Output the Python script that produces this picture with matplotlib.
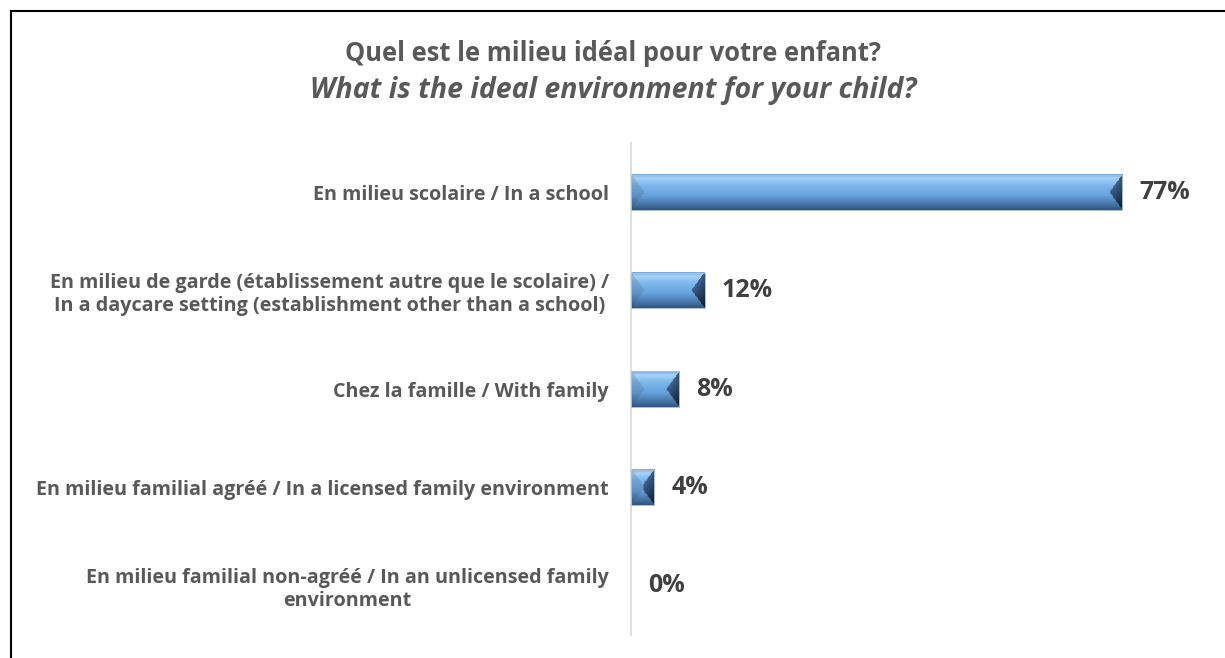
import numpy as np
import matplotlib
matplotlib.use("Agg")
import matplotlib.pyplot as plt
from matplotlib.lines import Line2D
from matplotlib.patches import Rectangle

# Donnees
categories = [
    "En milieu scolaire / In a school",
    "En milieu de garde (établissement autre que le scolaire) /\nIn a daycare setting (establishment other than a school)",
    "Chez la famille / With family",
    "En milieu familial agréé / In a licensed family environment",
    "En milieu familial non-agréé / In an unlicensed family\nenvironment",
]
values = [77.4, 11.6, 7.6, 3.7, 0.0]

title_fr = "Quel est le milieu idéal pour votre enfant?"
title_en = "What is the ideal environment for your child?"

W, H = 1225, 658
plt.rcParams['font.family'] = ['Open Sans', 'DejaVu Sans']

fig = plt.figure(figsize=(W / 100, H / 100), dpi=100)
fig.patch.set_facecolor('white')

# axe: ligne verticale a x=631 px, de y=143 a y=635 px
ax = fig.add_axes([631 / W, (H - 635) / H, (W - 631) / W, (635 - 143) / H])
ax.set_xlim(0, 594 / 6.35)
ax.set_ylim(len(categories) - 0.5, -0.5)

y = np.arange(len(categories))
bars = ax.barh(y, values, height=0.357, facecolor='none', edgecolor='none', zorder=3)


def face_color(t):
    # degradé vertical du biseau (haut clair, bas foncé)
    stops = [0.0, 0.1, 0.28, 0.6, 0.85, 1.0]
    cols = np.array([[125, 172, 220], [168, 212, 246], [128, 186, 238],
                     [102, 162, 220], [70, 116, 166], [50, 86, 130]]) / 255
    return np.stack([np.interp(t, stops, cols[:, i]) for i in range(3)], axis=-1)


def bevel_image(wpx, hpx, b=13):
    rr, cc = np.mgrid[0:hpx, 0:wpx]
    t = rr / max(hpx - 1, 1)
    img = face_color(t)
    dl, dr = cc, wpx - 1 - cc
    lim = b * (1 - np.abs(2 * t - 1))
    lim = np.minimum(lim, wpx / 2)
    left = (dl < lim) & (dl <= dr)
    right = (dr < lim) & (dr < dl)
    img[left] = img[left] * 0.85 + 0.03
    dark = np.stack([np.interp(t, [0, 0.5, 1], [80 / 255, 50 / 255, 20 / 255]),
                     np.interp(t, [0, 0.5, 1], [120 / 255, 82 / 255, 36 / 255]),
                     np.interp(t, [0, 0.5, 1], [168 / 255, 122 / 255, 60 / 255])], axis=-1)
    # plus sombre vers le bord droit
    k = np.clip(dr / b, 0, 1)[..., None]
    shade = dark * (0.75 + 0.45 * k)
    img[right] = np.clip(shade[right], 0, 1)
    return img


fig.canvas.draw()
for bar in bars:
    if bar.get_width() <= 0:
        continue
    x0, y0 = bar.get_x(), bar.get_y()
    x1, y1 = x0 + bar.get_width(), y0 + bar.get_height()
    p0 = ax.transData.transform((x0, y0))
    p1 = ax.transData.transform((x1, y1))
    wpx = max(int(round(abs(p1[0] - p0[0]))), 2)
    hpx = max(int(round(abs(p1[1] - p0[1]))), 2)
    img = bevel_image(wpx, hpx)
    ax.imshow(img, extent=(x0, x1, y1, y0), aspect='auto', interpolation='bilinear', zorder=2)
    ax.add_patch(Rectangle((x0, y0), bar.get_width(), bar.get_height(), facecolor='none',
                           edgecolor='#A9BFD8', lw=0.7, zorder=4))

ax.set_xlim(0, 594 / 6.35)
ax.set_ylim(len(categories) - 0.5, -0.5)

# etiquettes de valeurs
for v, yy in zip(values, y):
    ax.annotate(f"{v:.0f}%", (v, yy), xytext=(12, 0), textcoords='offset points',
                ha='left', va='center', fontsize=18, fontweight='bold', color='#404040')

ax.set_yticks(y)
ax.set_yticklabels(categories, fontsize=14.2, fontweight='bold', color='#595959',
                   linespacing=1.2)
for lab in ax.get_yticklabels():
    lab.set_multialignment('center')
ax.tick_params(axis='y', length=0, pad=16)
ax.set_xticks([])
for s in ['top', 'right', 'bottom']:
    ax.spines[s].set_visible(False)
ax.spines['left'].set_color('#D9D9D9')
ax.spines['left'].set_linewidth(1.2)
ax.set_facecolor('none')

# titre
fig.text(613 / W, 1 - 61 / H, title_fr, ha='center', va='baseline', fontsize=18.4,
         fontweight='bold', color='#595959')
fig.text(613 / W, 1 - 98 / H, title_en, ha='center', va='baseline', fontsize=20.5,
         fontweight='bold', style='italic', color='#595959')

# cadre
fig.add_artist(Line2D([10.5 / W, 10.5 / W], [0, 1 - 11 / H], color='black', lw=1.5,
                      transform=fig.transFigure))
fig.add_artist(Line2D([10.5 / W, 1], [1 - 11 / H, 1 - 11 / H], color='black', lw=1.5,
                      transform=fig.transFigure))

fig.savefig("out.png", dpi=100, facecolor='white')
